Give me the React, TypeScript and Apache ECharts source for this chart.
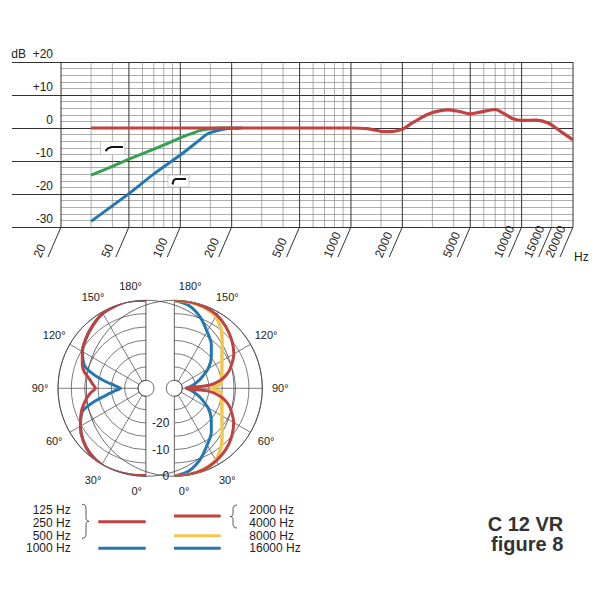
import React, { useEffect, useRef } from 'react';
import * as echarts from 'echarts';

const FONT = '"Liberation Sans", Arial, Helvetica, sans-serif';
const TXT = '#222';
const C_RED = '#c24141';
const C_BLUE = '#2378af';
const C_GREEN = '#34a050';
const C_YELLOW = '#f0c850';

// ---------- frequency response ----------
const Y_MIN = -30;
const Y_MAX = 20;
const xLabelFreqs = [20, 50, 100, 200, 500, 1000, 2000, 5000, 10000, 15000, 20000];
const xUnit = 'Hz';
const gridFreqs = [20, 30, 40, 50, 60, 70, 80, 90, 100, 150, 200, 300, 400, 500, 600, 700, 800, 900, 1000, 1500, 2000, 3000, 4000, 5000, 6000, 7000, 8000, 9000, 10000, 15000, 20000];
const majorFreqs = [20, 50, 100, 200, 500, 1000, 2000, 5000, 10000, 20000];

const redFreq = [30, 100, 500, 1000, 1250, 1500, 1700, 2000, 2300, 2900, 3700, 4300, 5000, 5700, 7000, 7800, 8900, 10200, 12200, 14300, 16800, 20000];
const redDb = [0, 0, 0, 0, -0.2, -1.0, -1.1, -0.4, 1.6, 4.4, 5.5, 5.0, 4.3, 4.8, 5.6, 4.5, 2.8, 2.3, 2.4, 1.5, -0.9, -3.6];
const greenFreq = [30, 40, 50, 70, 100, 115, 130, 150, 175, 200];
const greenDb = [-14.3, -11.6, -9.4, -6.4, -3.0, -1.8, -0.8, -0.2, 0, 0];
const blueFreq = [30, 50, 70, 100, 125, 143, 170, 200, 230];
const blueDb = [-28.3, -19.9, -13.9, -8.2, -4.3, -1.9, -0.6, -0.1, 0];

// ---------- polar patterns ----------
const polarAngles = [0, 10, 20, 30, 40, 50, 60, 70, 75, 80, 85, 90, 95, 100, 105, 110, 120, 130, 140, 150, 160, 170, 180];
const left125to500 = [-0.3, 0, 0.2, 0.2, -0.7, -2.3, -4.6, -7.2, -8.7, -10.3, -12.0, -14.0, -12.8, -11.2, -9.0, -7.6, -5.4, -3.7, -2.1, -0.6, 0, 0.3, 0];
const left1000 = [-0.3, 0, 0.2, 0.2, -0.7, -2.3, -4.6, -7.6, -12.2, -17.7, -21.0, -23.5, -21.2, -17.2, -12.5, -8.6, -5.5, -3.7, -2.1, -0.6, 0, 0.3, 0];
const right2000to4000 = [0, -0.2, -0.6, -1.6, -3.0, -4.9, -7.3, -10.6, -12.6, -15.4, -19.8, -28.5, -19.8, -15.4, -12.6, -10.6, -7.2, -4.9, -2.9, -1.2, -0.4, -0.1, 0];
const right8000 = [0, -0.2, -0.7, -1.9, -5.4, -9.6, -12.4, -14.0, -14.6, -15.0, -15.6, -19.0, -15.6, -15.0, -14.6, -14.0, -12.4, -9.6, -5.4, -1.9, -0.7, -0.2, 0];
const right16000 = [0, -1.5, -4.6, -8.4, -11.4, -14.9, -18.4, -22.5, -24.3, -25.8, -27.2, -28.5, -27.2, -25.8, -24.3, -22.5, -18.4, -14.9, -11.4, -8.4, -4.6, -1.5, 0];
const degreeTicks = [0, 30, 60, 90, 120, 150, 180];
const dbTicks = [0, -10, -20];

const legendLeftLabels = ['125 Hz', '250 Hz', '500 Hz', '1000 Hz'];
const legendRightLabels = ['2000 Hz', '4000 Hz', '8000 Hz', '16000 Hz'];

echarts.graphic.registerShape(
  'braceRight',
  echarts.graphic.extendPath('M0 0 C3 0 4 1.5 4 5 L4 13 C4 16 5 17 7 17 C5 17 4 18 4 21 L4 29 C4 32.5 3 34 0 34', {})
);
echarts.graphic.registerShape(
  'braceLeft',
  echarts.graphic.extendPath('M7 0 C4 0 3 1.5 3 4.5 L3 8.5 C3 10.5 2 11.5 0 11.5 C2 11.5 3 12.5 3 14.5 L3 18.5 C3 21.5 4 23 7 23', {})
);

const toXY = (fs: number[], vs: number[]) => fs.map((f, i) => [Math.log10(f), vs[i]]);
const toPolar = (vs: number[]) => polarAngles.map((a, i) => [vs[i], a]);

function txtStyle(text: string, align: string, size = 12, weight = 'normal', color = TXT, lineHeight?: number) {
  return {
    text,
    fill: color,
    fontSize: size,
    fontWeight: weight,
    fontFamily: FONT,
    align,
    verticalAlign: 'middle',
    textAlign: align,
    textVerticalAlign: 'middle',
    lineHeight: lineHeight ?? size,
  };
}

function txt(text: string, x: number, y: number, align: string, size = 12, weight = 'normal', color = TXT, lineHeight?: number) {
  return { type: 'text', x, y, silent: true, style: txtStyle(text, align, size, weight, color, lineHeight) };
}

function hline(x1: number, x2: number, y: number, color: string) {
  return { type: 'line', silent: true, shape: { x1, y1: y, x2, y2: y }, style: { stroke: color, lineWidth: 3 } };
}

function buildOption() {
  const polarLine = (polarIndex: number, vals: number[], color: string, width = 3) => ({
    type: 'line',
    coordinateSystem: 'polar',
    polarIndex,
    data: toPolar(vals),
    smooth: 0.25,
    symbol: 'none',
    clip: false,
    silent: true,
    lineStyle: { color, width, cap: 'round' },
    z: 5,
  });
  const vLine = (polarIndex: number, angle: number) => ({
    type: 'line',
    coordinateSystem: 'polar',
    polarIndex,
    data: [[-30, angle], [4.5, angle]],
    symbol: 'none',
    clip: false,
    silent: true,
    lineStyle: { color: '#666', width: 0.9 },
    z: 3,
  });
  // degree labels around each half plot (custom series on the polar system)
  const degLabels = (polarIndex: number, side: 'left' | 'right') => ({
    type: 'custom',
    coordinateSystem: 'polar',
    polarIndex,
    silent: true,
    clip: false,
    z: 6,
    data: degreeTicks.map((a) => [a === 0 || a === 180 ? 5.5 : 6.75, a]),
    renderItem: (params: any, api: any) => {
      const r = api.value(0);
      const a = api.value(1);
      const p = api.coord([r, a]);
      const edge = a === 0 || a === 180;
      const align = edge ? (side === 'left' ? 'right' : 'left') : 'center';
      const x = edge ? (side === 'left' ? p[0] - 4 : p[0] + 4.5) : p[0];
      return { type: 'text', x, y: p[1], style: txtStyle(a + '°', align, 11) };
    },
  });
  const angleAxisBase = {
    type: 'value',
    min: 0,
    max: 180,
    interval: 30,
    axisLine: { show: true, lineStyle: { color: '#444', width: 0.8 } },
    axisTick: { show: false },
    axisLabel: { show: false },
    splitLine: { show: true, lineStyle: { color: '#444', width: 0.7 } },
  };
  const radiusAxisBase = {
    type: 'value',
    min: -30,
    max: 0,
    interval: 5,
    axisLine: { show: false },
    axisTick: { show: false },
    axisLabel: { show: false },
    splitLine: { show: true, lineStyle: { color: '#444', width: 0.7 } },
  };

  const graphic: any[] = [
    // filter icons
    { type: 'rect', silent: true, z: 100, shape: { x: 100.5, y: 141.5, width: 24.5, height: 13 }, style: { fill: '#fff', stroke: '#bbb', lineWidth: 0.8 } },
    { type: 'polyline', silent: true, z: 101, shape: { points: [[105.5, 151], [108, 148.3], [111.5, 147], [123, 147]] }, style: { stroke: '#111', lineWidth: 2, fill: 'none' } },
    { type: 'rect', silent: true, z: 100, shape: { x: 168, y: 175, width: 21, height: 12 }, style: { fill: '#fff', stroke: '#bbb', lineWidth: 0.8 } },
    { type: 'polyline', silent: true, z: 101, shape: { points: [[172.5, 184.5], [173.5, 180.5], [175.5, 179], [186, 179]] }, style: { stroke: '#111', lineWidth: 2, fill: 'none' } },
    // legend
    { type: 'braceRight', x: 82, y: 504.3, silent: true, style: { fill: 'none', stroke: '#444', lineWidth: 0.9 } },
    { type: 'braceLeft', x: 230, y: 505, silent: true, style: { fill: 'none', stroke: '#444', lineWidth: 0.9 } },
    hline(98.3, 145.7, 521.7, C_RED),
    hline(98.3, 145.7, 548.3, C_BLUE),
    hline(174, 220.7, 516, C_RED),
    hline(174, 220.7, 535.7, C_YELLOW),
    hline(174, 220.7, 548.3, C_BLUE),
    // title
    txt('C 12 VR', 563.3, 524.2, 'right', 20, 'bold', '#333', 17),
    txt('figure 8', 563.3, 544.4, 'right', 20, 'bold', '#333', 17),
  ];
  const rowY = [510, 522.5, 535.5, 548.3];
  legendLeftLabels.forEach((l, i) => graphic.push(txt(l, 70.7, rowY[i], 'right')));
  legendRightLabels.forEach((l, i) => graphic.push(txt(l, 249.3, rowY[i], 'left')));

  const lastLabel = xLabelFreqs[xLabelFreqs.length - 1];

  return {
    animation: false,
    backgroundColor: '#fff',
    grid: { left: 61, top: 62, width: 512, height: 165, containLabel: false, outerBoundsMode: 'none' },
    xAxis: {
      type: 'value',
      min: Math.log10(20),
      max: Math.log10(20000),
      axisLine: { show: false },
      axisTick: { show: false },
      axisLabel: { show: false },
      splitLine: { show: false },
    },
    yAxis: [
      {
        type: 'value',
        position: 'left',
        min: Y_MIN,
        max: Y_MAX,
        interval: 2,
        axisLine: { show: false },
        axisTick: { show: false },
        axisLabel: { show: false },
        splitLine: { show: true, lineStyle: { color: '#777', width: 0.6 } },
      },
      {
        type: 'value',
        position: 'left',
        offset: 0,
        min: Y_MIN,
        max: Y_MAX,
        interval: 10,
        axisLine: { show: false },
        axisTick: { show: true, inside: false, length: 49, lineStyle: { color: '#333', width: 1 } },
        axisLabel: {
          show: true,
          margin: 8,
          fontSize: 12,
          color: TXT,
          fontFamily: FONT,
          verticalAlign: 'bottom',
          lineHeight: 14,
          padding: [0, 0, 1, 0],
          formatter: (v: number) => (v === 20 ? 'dB  +20' : v > 0 ? '+' + v : String(v)),
        },
        splitLine: { show: true, lineStyle: { color: '#333', width: 1 } },
      },
    ],
    polar: [
      { center: [146, 388.3], radius: [8, 88] },
      { center: [174.3, 388.3], radius: [8, 88] },
    ],
    angleAxis: [
      { ...angleAxisBase, polarIndex: 0, startAngle: 270, endAngle: 90, clockwise: true },
      { ...angleAxisBase, polarIndex: 1, startAngle: -90, endAngle: 90, clockwise: false },
    ],
    radiusAxis: [
      { ...radiusAxisBase, polarIndex: 0 },
      { ...radiusAxisBase, polarIndex: 1 },
    ],
    graphic,
    series: [
      {
        type: 'custom',
        name: 'vgrid',
        xAxisIndex: 0,
        yAxisIndex: 0,
        silent: true,
        z: 1,
        data: gridFreqs.map((f) => [Math.log10(f), majorFreqs.includes(f) ? 1 : 0]),
        renderItem: (params: any, api: any) => {
          const x = api.value(0);
          const major = api.value(1) === 1;
          const p1 = api.coord([x, Y_MIN]);
          const p2 = api.coord([x, Y_MAX]);
          return {
            type: 'line',
            shape: { x1: p1[0], y1: p1[1], x2: p2[0], y2: p2[1] },
            style: { stroke: major ? '#333' : '#777', lineWidth: major ? 1 : 0.6 },
          };
        },
      },
      {
        type: 'custom',
        name: 'xlabels',
        xAxisIndex: 0,
        yAxisIndex: 0,
        silent: true,
        clip: false,
        z: 2,
        data: xLabelFreqs.map((f) => [Math.log10(f), f]),
        renderItem: (params: any, api: any) => {
          const x = api.value(0);
          const f = api.value(1);
          const p = api.coord([x, Y_MIN]);
          const children: any[] = [
            { type: 'line', shape: { x1: p[0], y1: p[1], x2: p[0] - 13, y2: p[1] + 30 }, style: { stroke: '#333', lineWidth: 1 } },
            {
              type: 'text',
              x: p[0] - 24,
              y: p[1] + 30,
              rotation: (66.6 * Math.PI) / 180,
              style: txtStyle(String(f), 'left'),
            },
          ];
          if (f === lastLabel) {
            children.push({ type: 'text', x: p[0] + 1, y: p[1] + 30, style: txtStyle(xUnit, 'left') });
          }
          return { type: 'group', children };
        },
      },
      { type: 'line', name: 'green', xAxisIndex: 0, yAxisIndex: 0, data: toXY(greenFreq, greenDb), smooth: 0.2, symbol: 'none', silent: true, z: 4, lineStyle: { color: C_GREEN, width: 3 } },
      { type: 'line', name: 'blue', xAxisIndex: 0, yAxisIndex: 0, data: toXY(blueFreq, blueDb), smooth: 0.2, symbol: 'none', silent: true, z: 4, lineStyle: { color: C_BLUE, width: 3 } },
      { type: 'line', name: 'red', xAxisIndex: 0, yAxisIndex: 0, data: toXY(redFreq, redDb), smooth: 0.3, symbol: 'none', silent: true, z: 5, lineStyle: { color: C_RED, width: 3.2 } },
      vLine(0, 0),
      vLine(0, 180),
      vLine(1, 0),
      vLine(1, 180),
      polarLine(0, left1000, C_BLUE),
      polarLine(0, left125to500, C_RED),
      polarLine(1, right16000, C_BLUE),
      polarLine(1, right8000, C_YELLOW, 3.5),
      polarLine(1, right2000to4000, C_RED),
      degLabels(0, 'left'),
      degLabels(1, 'right'),
      {
        type: 'custom',
        coordinateSystem: 'polar',
        polarIndex: 1,
        silent: true,
        clip: false,
        z: 6,
        data: dbTicks.map((v) => [v, 0]),
        renderItem: (params: any, api: any) => {
          const r = api.value(0);
          const p = api.coord([r, api.value(1)]);
          return { type: 'text', x: p[0] - 5, y: p[1], style: txtStyle(String(r), 'right', 12) };
        },
      },
    ],
  };
}

export default function App() {
  const ref = useRef<HTMLDivElement>(null);
  useEffect(() => {
    document.body.style.margin = '0';
    const chart = echarts.init(ref.current as HTMLDivElement, null, { renderer: 'svg' });
    chart.setOption(buildOption() as any);
    return () => chart.dispose();
  }, []);
  return <div ref={ref} style={{ position: 'absolute', left: 0, top: 0, width: 600, height: 600, background: '#fff' }} />;
}
